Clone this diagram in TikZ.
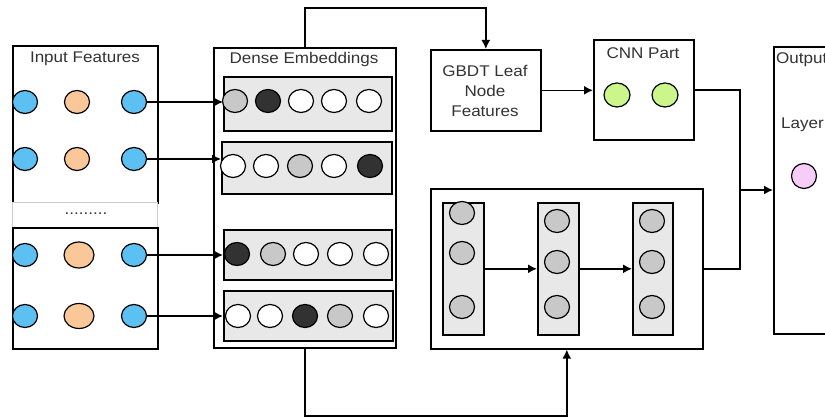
\documentclass[tikz,border=0pt]{standalone}
\usepackage{fontspec}
\setmainfont{Liberation Sans}[FakeStretch=1.1]
\usetikzlibrary{arrows.meta,shapes.geometric,calc}
\definecolor{cblue}{RGB}{92,192,242}
\definecolor{corange}{RGB}{250,200,152}
\definecolor{cdark}{RGB}{50,50,50}
\definecolor{cgray}{RGB}{200,200,200}
\definecolor{cgreen}{RGB}{204,246,140}
\definecolor{cpink}{RGB}{248,204,248}
\definecolor{crow}{RGB}{232,232,232}
\begin{document}
\begin{tikzpicture}[x=1pt,y=-1pt,
  box/.style={draw=black,line width=1.6pt,fill=white,rectangle,inner sep=0pt,anchor=north west},
  rowbox/.style={draw=black,line width=1.6pt,fill=crow,rectangle,inner sep=0pt,anchor=north west},
  dot/.style={ellipse,draw=black,line width=1.2pt,minimum width=25pt,minimum height=23pt,inner sep=0pt},
  bdot/.style={dot,fill=cblue},
  odot/.style={dot,fill=corange},
  wdot/.style={dot,fill=white},
  gdot/.style={dot,fill=cgray},
  kdot/.style={dot,fill=cdark},
  lbl/.style={font=\fontsize{15.5}{20}\selectfont,text=black!80,inner sep=0pt},
  conn/.style={line width=1.5pt,-{Latex[length=9pt,width=9pt]}},
  line/.style={line width=1.5pt}
]
\useasboundingbox (0,0) rectangle (825,419);

% Input features
\node[box,minimum width=145pt,minimum height=157pt] (inA) at (12,45) {};
\node[box,draw=black!20,line width=0.8pt,minimum width=145pt,minimum height=25pt] (band) at (12,202) {};
\node[box,minimum width=145pt,minimum height=121pt] (inB) at (12,227) {};
\node[lbl] (tin) at (85,59) {Input Features};
\node[lbl] (dots) at (86,214) {.........};

\node[bdot] (a1) at (25,102) {};
\node[odot] (o1) at (77,102) {};
\node[bdot] (b1) at (134,102) {};
\node[bdot] (a2) at (25,159) {};
\node[odot] (o2) at (77,159) {};
\node[bdot] (b2) at (134,159) {};
\node[bdot] (a3) at (25,255) {};
\node[odot,minimum width=30pt,minimum height=26pt] (o3) at (79,255) {};
\node[bdot] (b3) at (134,255) {};
\node[bdot] (a4) at (25,316) {};
\node[odot,minimum width=30pt,minimum height=25pt] (o4) at (79,316) {};
\node[bdot] (b4) at (134,316) {};

% Dense embeddings
\node[box,minimum width=182pt,minimum height=300pt] (dense) at (213,47) {};
\node[lbl] (tde) at (304,59) {Dense Embeddings};
\node[rowbox,minimum width=168pt,minimum height=54pt] (r1) at (223,76) {};
\node[rowbox,minimum width=170pt,minimum height=52pt] (r2) at (221,141) {};
\node[rowbox,minimum width=168pt,minimum height=50pt] (r3) at (223,229) {};
\node[rowbox,minimum width=169pt,minimum height=50pt] (r4) at (223,290) {};

\node[gdot] (d11) at (235,101) {};
\node[kdot] (d12) at (268,101) {};
\node[wdot] (d13) at (301,101) {};
\node[wdot] (d14) at (334,101) {};
\node[wdot] (d15) at (369,101) {};

\node[wdot] (d21) at (233,166) {};
\node[wdot] (d22) at (266,166) {};
\node[gdot] (d23) at (300,166) {};
\node[wdot] (d24) at (334,166) {};
\node[kdot] (d25) at (370,166) {};

\node[kdot] (d31) at (237,254) {};
\node[gdot] (d32) at (273,254) {};
\node[wdot] (d33) at (306,254) {};
\node[wdot] (d34) at (340,254) {};
\node[wdot] (d35) at (376,254) {};

\node[wdot] (d41) at (238,316) {};
\node[wdot] (d42) at (270,316) {};
\node[kdot] (d43) at (305,316) {};
\node[gdot] (d44) at (340,316) {};
\node[wdot] (d45) at (376,316) {};

\draw[conn] (b1.east) -- (b1.east -| r1.west);
\draw[conn] (b2.east) -- (b2.east -| r2.west);
\draw[conn] (b3.east) -- (b3.east -| r3.west);
\draw[conn] (b4.east) -- (b4.east -| r4.west);

% GBDT
\node[box,minimum width=110pt,minimum height=81pt] (gbdt) at (430,49) {};
\node[lbl,align=center] (tg) at (485,91) {GBDT Leaf\\Node\\Features};

% CNN
\node[box,minimum width=100pt,minimum height=100pt] (cnn) at (593,39) {};
\node[lbl] (tc) at (643,53) {CNN Part};
\node[dot,fill=cgreen,minimum width=26pt,minimum height=24pt] (g1) at (617,95) {};
\node[dot,fill=cgreen,minimum width=26pt,minimum height=24pt] (g2) at (665,95) {};

% Output
\node[box,minimum width=70pt,minimum height=287pt] (out) at (773,46) {};
\node[lbl,anchor=west] (to) at (776,60) {Output};
\node[lbl,anchor=west] (tl) at (781,125) {Layer};
\node[dot,fill=cpink,minimum width=25pt,minimum height=25pt] (p1) at (804,176) {};

% DNN
\node[box,minimum width=272pt,minimum height=160pt] (dnn) at (430,188) {};
\node[rowbox,minimum width=41pt,minimum height=132pt] (c1) at (442,202) {};
\node[rowbox,minimum width=41pt,minimum height=132pt] (c2) at (537,202) {};
\node[rowbox,minimum width=40pt,minimum height=132pt] (c3) at (632,202) {};
\node[gdot] (n11) at (462,213) {};
\node[gdot] (n12) at (462,253) {};
\node[gdot] (n13) at (462,307) {};
\node[gdot] (n21) at (557,221) {};
\node[gdot] (n22) at (557,262) {};
\node[gdot] (n23) at (557,307) {};
\node[gdot] (n31) at (652,221) {};
\node[gdot] (n32) at (652,262) {};
\node[gdot] (n33) at (652,307) {};
\draw[conn] (c1.east) -- (c2.west);
\draw[conn] (c2.east) -- (c3.west);

% Connectors
\coordinate (topy) at (0,8);
\coordinate (boty) at (0,416);
\coordinate (j) at (740,190);
\draw[conn] (dense.north) -- (dense.north |- topy) -| (gbdt.north);
\draw[conn] (gbdt.east) -- (gbdt.east -| cnn.west);
\draw[line] (cnn.east) -| (j);
\draw[line] (dnn.east) -| (j);
\draw[conn] (j) -- (j -| out.west);
\draw[conn] (dense.south) -- (dense.south |- boty) -| (dnn.south);
\end{tikzpicture}
\end{document}
